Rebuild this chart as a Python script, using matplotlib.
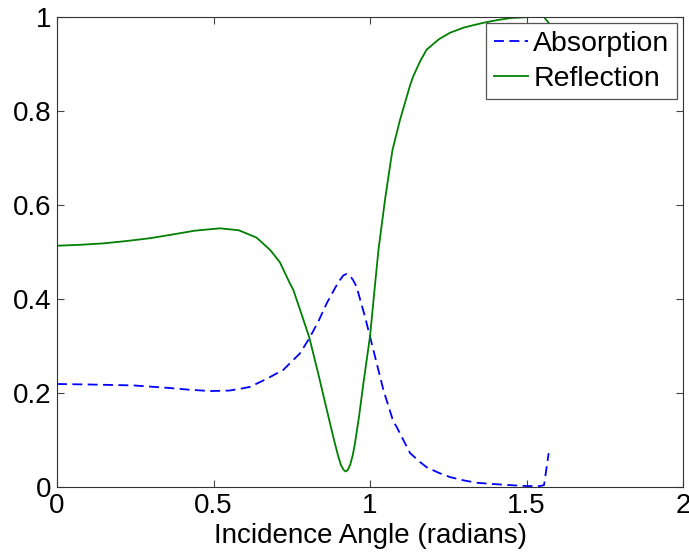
import matplotlib
matplotlib.use("Agg")
import matplotlib.pyplot as plt

plt.rcParams['font.family'] = ['Liberation Sans', 'DejaVu Sans']

# Reflection curve
refl_x = [0.0, 0.074, 0.148, 0.222, 0.297, 0.37, 0.44, 0.52, 0.58, 0.617, 0.638,
          0.681, 0.712, 0.744, 0.755, 0.78, 0.806, 0.835, 0.862, 0.885, 0.899,
          0.907, 0.915, 0.922, 0.929, 0.937, 0.945, 0.952, 0.965, 0.979, 1.0,
          1.016, 1.027, 1.048, 1.064, 1.072, 1.096, 1.128, 1.138, 1.16, 1.181,
          1.22, 1.256, 1.30, 1.362, 1.40, 1.447, 1.50, 1.555, 1.5708]
refl_y = [0.513, 0.515, 0.518, 0.523, 0.529, 0.537, 0.545, 0.550, 0.546, 0.536, 0.530,
          0.504, 0.478, 0.433, 0.419, 0.37, 0.318, 0.24, 0.164, 0.10, 0.064,
          0.047, 0.037, 0.033, 0.036, 0.048, 0.068, 0.093, 0.15, 0.221, 0.320,
          0.43, 0.504, 0.611, 0.683, 0.717, 0.781, 0.854, 0.873, 0.905, 0.930,
          0.952, 0.966, 0.977, 0.987, 0.992, 0.997, 0.999, 1.0, 0.987]

# Absorption curve
abs_x = [0.0, 0.1, 0.244, 0.35, 0.42, 0.489, 0.55, 0.595, 0.617, 0.67, 0.723,
         0.744, 0.776, 0.806, 0.835, 0.862, 0.89, 0.905, 0.915, 0.925, 0.936,
         0.946, 0.957, 0.984, 1.0, 1.032, 1.043, 1.074, 1.085, 1.128, 1.16,
         1.181, 1.22, 1.256, 1.30, 1.341, 1.40, 1.447, 1.50, 1.543, 1.556, 1.5708]
abs_y = [0.219, 0.218, 0.216, 0.211, 0.207, 0.204, 0.205, 0.210, 0.213, 0.230, 0.249,
         0.263, 0.284, 0.316, 0.352, 0.391, 0.425, 0.441, 0.450, 0.453, 0.449,
         0.440, 0.426, 0.362, 0.320, 0.235, 0.206, 0.140, 0.128, 0.072, 0.053,
         0.042, 0.030, 0.021, 0.014, 0.009, 0.006, 0.004, 0.002, 0.002, 0.004, 0.072]

xticks = [0, 0.5, 1, 1.5, 2]
xtick_labels = ['0', '0.5', '1', '1.5', '2']
yticks = [0, 0.2, 0.4, 0.6, 0.8, 1]
ytick_labels = ['0', '0.2', '0.4', '0.6', '0.8', '1']

fig = plt.figure(figsize=(6.89, 5.55), dpi=100)
ax = fig.add_axes([57/689, 68/555, 626/689, 470.3/555])

ax.plot(abs_x, abs_y, color=(0, 0, 1), lw=1.3, dashes=(5.5, 3), label='Absorption')
ax.plot(refl_x, refl_y, color=(0, 0.5, 0), lw=1.3, label='Reflection')

ax.set_xlim(0, 2)
ax.set_ylim(0, 1)
ax.set_xticks(xticks)
ax.set_xticklabels(xtick_labels)
ax.set_yticks(yticks)
ax.set_yticklabels(ytick_labels)
ax.tick_params(direction='in', length=5, width=0.8, color='#444444',
               labelsize=20, top=True, right=True, pad=4)
for s in ax.spines.values():
    s.set_color('#333333')
    s.set_linewidth(0.8)

ax.set_xlabel('Incidence Angle (radians)', fontsize=20, labelpad=3)

leg = ax.legend(loc='upper right', bbox_to_anchor=(0.991, 0.986), borderaxespad=0,
                fontsize=20.5, fancybox=False, framealpha=1, edgecolor='#555555',
                handlelength=1.22, handletextpad=0.18, borderpad=0.27,
                labelspacing=0.3)
leg.get_frame().set_linewidth(0.9)

fig.savefig('out.png', dpi=100)
